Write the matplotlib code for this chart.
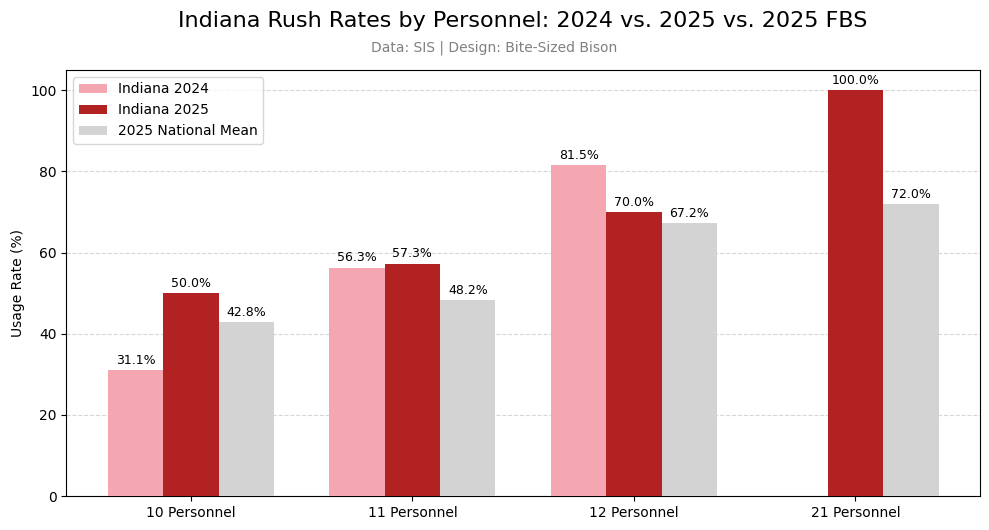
import numpy as np
import matplotlib
matplotlib.use("Agg")
import matplotlib.pyplot as plt

# Data
personnel = ["10 Personnel", "11 Personnel", "12 Personnel", "21 Personnel"]
indiana_2024 = [31.1, 56.3, 81.5, np.nan]
indiana_2025 = [50.0, 57.3, 70.0, 100.0]
national_2025 = [42.8, 48.2, 67.2, 72.0]

series = [
    ("Indiana 2024", indiana_2024, "#F4A7B1"),
    ("Indiana 2025", indiana_2025, "#B22222"),
    ("2025 National Mean", national_2025, "#D3D3D3"),
]

fig = plt.figure(figsize=(9.89, 5.3), dpi=100)
ax = fig.add_axes([0.067, 0.064, 0.924, 0.804])

x = np.arange(len(personnel))
width = 0.25

for i, (label, vals, color) in enumerate(series):
    pos = x + (i - 1) * width
    bars = ax.bar(pos, vals, width, label=label, color=color, zorder=3)
    for b, v in zip(bars, vals):
        if np.isnan(v):
            continue
        ax.text(b.get_x() + b.get_width() / 2, v + 0.8, f"{v:.1f}%",
                ha="center", va="bottom", fontsize=9)

ax.set_xticks(x)
ax.set_xticklabels(personnel)
ax.set_xlim(-0.5625, 3.5625)
ax.set_ylim(0, 105)
ax.set_ylabel("Usage Rate (%)")
ax.grid(axis="y", linestyle="--", alpha=0.5, zorder=0)
ax.legend(loc="upper left")

fig.text(0.528, 0.96, "Indiana Rush Rates by Personnel: 2024 vs. 2025 vs. 2025 FBS",
         ha="center", va="center", fontsize=16)
fig.text(0.5, 0.91, "Data: SIS | Design: Bite-Sized Bison",
         ha="center", va="center", fontsize=10, color="gray")

fig.savefig("out.png", dpi=100)
